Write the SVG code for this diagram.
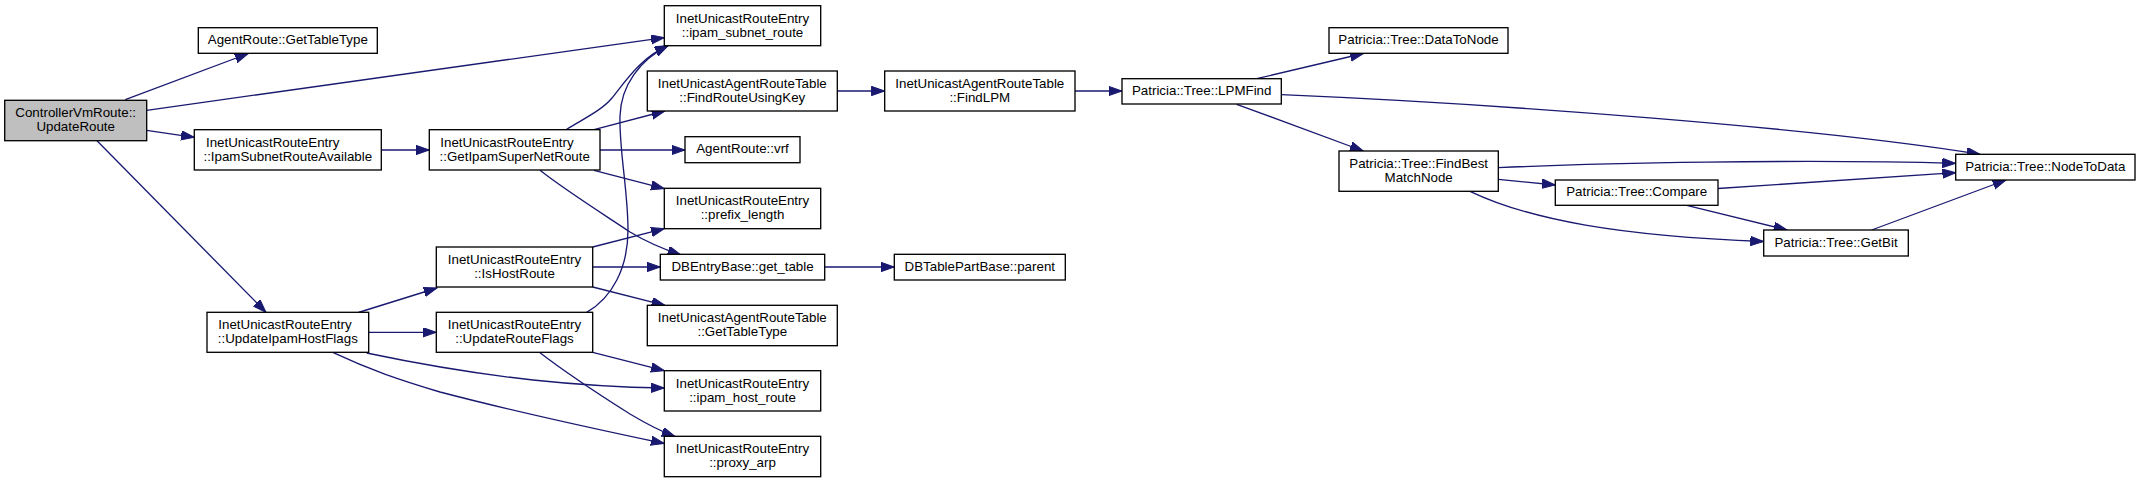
<svg xmlns="http://www.w3.org/2000/svg" width="2140" height="483" viewBox="0 0 2140 483">
<style>
.n rect{fill:#fff;stroke:#000;stroke-width:1.33}
.n.root rect{fill:#bfbfbf}
.n text{font-family:"Liberation Sans",Arial,sans-serif;font-size:13.33px;fill:#000}
.m{text-anchor:middle}
.s{text-anchor:start}
.e path{fill:none;stroke:#191970;stroke-width:1.33;marker-end:url(#ah)}
</style>
<defs>
<marker id="ah" markerUnits="userSpaceOnUse" markerWidth="14" markerHeight="10" refX="13.3" refY="4.67" orient="auto">
<path d="M0,0 L13.3,4.67 L0,9.33 z" fill="#191970" stroke="#191970" stroke-width="1"/>
</marker>
</defs>
<rect width="2140" height="483" fill="#fff"/>
<g id="edges" class="e">
<path d="M125.3,99.7 L248.3,53.5"/>
<path d="M146.7,110.3 L664.3,37.6"/>
<path d="M146.7,130.3 L194.3,137.3"/>
<path d="M97,140.7 L266,312.3"/>
<path d="M381.3,150 L429.3,150"/>
<path d="M566,129.7 C585,118 602,110 612,98 C625,82 640,58 668,45.7"/>
<path d="M586.7,312.3 C612,298 628,268 628,230 C628,190 619,150 620,116 C621,85 640,60 668,45.7"/>
<path d="M594,129.7 L665,111"/>
<path d="M600,150 L685,150"/>
<path d="M594,170.3 L664.3,188.7"/>
<path d="M540,170.3 C565,190 600,212 630,232 C645,241 660,248 681,255"/>
<path d="M592.7,247 L664.3,228.7"/>
<path d="M592.7,267 L660.3,267"/>
<path d="M592.7,287 L665,305.3"/>
<path d="M592.7,352.3 L664.3,370.7"/>
<path d="M540,352.7 C565,372 600,395 630,414 C645,423 660,431 675,436.5"/>
<path d="M358.3,312.5 L437,288"/>
<path d="M368.7,332.3 L436.3,332.3"/>
<path d="M366.7,353 C400,360 460,372 533,380 C580,385 630,387.5 664.3,388"/>
<path d="M333.3,352.7 C370,370 400,380 440,392 C520,413 600,430 664.3,443.5"/>
<path d="M837.3,91 L884.7,91"/>
<path d="M1075,91 L1122,91"/>
<path d="M824.7,267 L894.3,267"/>
<path d="M1256.7,78.7 L1363.3,53.5"/>
<path d="M1281.3,94.7 C1500,104 1820,128 1980,154.3"/>
<path d="M1236.7,104.3 L1363.3,151"/>
<path d="M1498.3,167.7 C1600,163 1800,159 1955.7,163.3"/>
<path d="M1498.3,179.3 L1555.3,185"/>
<path d="M1470,191.3 C1530,220 1620,236 1763.7,241.5"/>
<path d="M1718,188.5 L1955.7,172.7"/>
<path d="M1686.7,205.3 L1787,230"/>
<path d="M1871.7,230 L2006,180"/>
</g>
<g id="n1" class="n root"><rect x="4.7" y="100.3" width="142" height="40.4"/><text class="m" x="75.7" y="117.1">ControllerVmRoute::</text><text class="m" x="75.7" y="131.1">UpdateRoute</text></g>
<g id="n2" class="n"><rect x="198.3" y="27.7" width="179" height="25.6"/><text class="m" x="287.8" y="44.2">AgentRoute::GetTableType</text></g>
<g id="n3" class="n"><rect x="194.3" y="129.7" width="187" height="40.3"/><text class="s" x="206" y="146.5">InetUnicastRouteEntry</text><text class="m" x="287.8" y="160.5">::IpamSubnetRouteAvailable</text></g>
<g id="n4" class="n"><rect x="207" y="312.3" width="161.7" height="40"/><text class="s" x="218.3" y="329.1">InetUnicastRouteEntry</text><text class="m" x="287.8" y="343.1">::UpdateIpamHostFlags</text></g>
<g id="n5" class="n"><rect x="664.3" y="5.7" width="156.4" height="40"/><text class="m" x="742.5" y="22.5">InetUnicastRouteEntry</text><text class="m" x="742.5" y="36.5">::ipam_subnet_route</text></g>
<g id="n6" class="n"><rect x="647.3" y="71" width="190" height="40"/><text class="m" x="742.3" y="87.8">InetUnicastAgentRouteTable</text><text class="m" x="742.3" y="101.8">::FindRouteUsingKey</text></g>
<g id="n7" class="n"><rect x="429.3" y="129.7" width="170.7" height="40.3"/><text class="s" x="440.3" y="146.5">InetUnicastRouteEntry</text><text class="m" x="514.7" y="160.5">::GetIpamSuperNetRoute</text></g>
<g id="n8" class="n"><rect x="685" y="136.7" width="115" height="26"/><text class="m" x="742.5" y="153.2">AgentRoute::vrf</text></g>
<g id="n9" class="n"><rect x="664.3" y="188.3" width="156.4" height="40.4"/><text class="m" x="742.5" y="205.1">InetUnicastRouteEntry</text><text class="m" x="742.5" y="219.1">::prefix_length</text></g>
<g id="n10" class="n"><rect x="660.3" y="254.3" width="164.4" height="25.7"/><text class="m" x="742.5" y="270.8">DBEntryBase::get_table</text></g>
<g id="n11" class="n"><rect x="436.3" y="247" width="156.4" height="40"/><text class="m" x="514.5" y="263.8">InetUnicastRouteEntry</text><text class="m" x="514.5" y="277.8">::IsHostRoute</text></g>
<g id="n12" class="n"><rect x="436.3" y="312.3" width="156.4" height="40"/><text class="m" x="514.5" y="329.1">InetUnicastRouteEntry</text><text class="m" x="514.5" y="343.1">::UpdateRouteFlags</text></g>
<g id="n13" class="n"><rect x="647.3" y="305.3" width="190" height="40.4"/><text class="m" x="742.3" y="322.1">InetUnicastAgentRouteTable</text><text class="m" x="742.3" y="336.1">::GetTableType</text></g>
<g id="n14" class="n"><rect x="664.3" y="370.7" width="156.4" height="40.3"/><text class="m" x="742.5" y="387.5">InetUnicastRouteEntry</text><text class="m" x="742.5" y="401.5">::ipam_host_route</text></g>
<g id="n15" class="n"><rect x="664.3" y="436.3" width="156.4" height="40.4"/><text class="m" x="742.5" y="453.1">InetUnicastRouteEntry</text><text class="m" x="742.5" y="467.1">::proxy_arp</text></g>
<g id="n16" class="n"><rect x="884.7" y="71" width="190.3" height="40"/><text class="m" x="979.8" y="87.8">InetUnicastAgentRouteTable</text><text class="m" x="979.8" y="101.8">::FindLPM</text></g>
<g id="n17" class="n"><rect x="1122" y="78.7" width="159.3" height="25.3"/><text class="m" x="1201.7" y="95">Patricia::Tree::LPMFind</text></g>
<g id="n18" class="n"><rect x="894.3" y="254.3" width="171" height="25.7"/><text class="m" x="979.8" y="270.8">DBTablePartBase::parent</text></g>
<g id="n19" class="n"><rect x="1329" y="27.7" width="179" height="25.6"/><text class="m" x="1418.5" y="44.2">Patricia::Tree::DataToNode</text></g>
<g id="n20" class="n"><rect x="1339" y="151" width="159.3" height="40.3"/><text class="m" x="1418.7" y="167.8">Patricia::Tree::FindBest</text><text class="m" x="1418.7" y="181.8">MatchNode</text></g>
<g id="n21" class="n"><rect x="1555.3" y="180" width="162.7" height="25.3"/><text class="m" x="1636.7" y="196.3">Patricia::Tree::Compare</text></g>
<g id="n22" class="n"><rect x="1955.7" y="154.3" width="179.3" height="25.7"/><text class="m" x="2045.3" y="170.8">Patricia::Tree::NodeToData</text></g>
<g id="n23" class="n"><rect x="1763.7" y="230" width="144.6" height="26"/><text class="m" x="1836" y="246.5">Patricia::Tree::GetBit</text></g>
</svg>
